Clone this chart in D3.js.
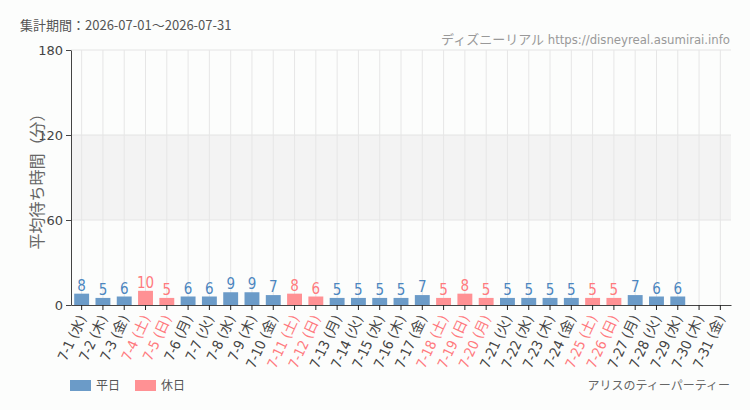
<!DOCTYPE html>
<html>
<head>
<meta charset="utf-8">
<script src="https://cdn.jsdelivr.net/npm/d3@7"></script>
<style>
body { margin: 0; background: #fcfdfc; }
svg { display: block; font-family: "Noto Sans CJK JP", "DejaVu Sans", sans-serif; }
.cond { font-family: "DejaVu Sans Condensed", "Noto Sans CJK JP", sans-serif; font-stretch: condensed; }
</style>
</head>
<body>
<div id="canvas"></div>
<script>
// ----------------------------------------------------------
// DATA
// ----------------------------------------------------------
var days = ["7-1","7-2","7-3","7-4","7-5","7-6","7-7","7-8","7-9","7-10",
"7-11","7-12","7-13","7-14","7-15","7-16","7-17","7-18","7-19","7-20",
"7-21","7-22","7-23","7-24","7-25","7-26","7-27","7-28","7-29","7-30","7-31"];
var weekdays = ["水","木","金","土","日","月","火","水","木","金",
"土","日","月","火","水","木","金","土","日","月",
"火","水","木","金","土","日","月","火","水","木","金"];
var holidays = ["7-4","7-5","7-11","7-12","7-18","7-19","7-20","7-25","7-26"];
var waits = [8,5,6,10,5,6,6,9,9,7,8,6,5,5,5,5,7,5,8,5,5,5,5,5,5,5,7,6,6,null,null];
var y_ticks = [0, 60, 120, 180];

var rows = days.map(function (d, i) {
  return { day: d, wd: weekdays[i], value: waits[i], holiday: holidays.indexOf(d) >= 0 };
});

// ----------------------------------------------------------
// STRUCTURE
// ----------------------------------------------------------
var W = 750, H = 410;
var p_left = 71, p_right = 731, p_top = 50, p_bottom = 305;

var svg = d3.select("#canvas").append("svg")
  .attr("width", W)
  .attr("height", H)
  .style("background-color", "#fcfdfc");

var x = d3.scaleBand()
  .domain(days)
  .range([p_left, p_right])
  .paddingInner(0.3)
  .paddingOuter(0.15);

var y = d3.scaleLinear()
  .domain([0, 180])
  .range([p_bottom, p_top]);

var c_blue = "#6b9bc8", c_pink = "#ff9194";
var t_blue = "#4c86bf", t_pink = "#ff7a7e";

// shaded band 60-120
svg.append("rect")
  .attr("x", p_left)
  .attr("y", y(120))
  .attr("width", p_right - p_left)
  .attr("height", y(60) - y(120))
  .style("fill", "#f3f3f3");

// horizontal grid
svg.selectAll(".hgrid")
  .data(y_ticks.filter(function (t) { return t > 0; }))
  .enter().append("line")
  .attr("x1", p_left).attr("x2", p_right)
  .attr("y1", function (d) { return y(d); })
  .attr("y2", function (d) { return y(d); })
  .style("stroke", "#e4e4e4");

// vertical grid at each day
svg.selectAll(".vgrid")
  .data(days)
  .enter().append("line")
  .attr("x1", function (d) { return x(d) + x.bandwidth() / 2; })
  .attr("x2", function (d) { return x(d) + x.bandwidth() / 2; })
  .attr("y1", p_top).attr("y2", p_bottom)
  .style("stroke", "#e6e6e6");

// bars
svg.selectAll(".bar")
  .data(rows.filter(function (r) { return r.value != null; }))
  .enter().append("rect")
  .attr("x", function (d) { return x(d.day); })
  .attr("y", function (d) { return y(d.value); })
  .attr("width", x.bandwidth())
  .attr("height", function (d) { return p_bottom - y(d.value); })
  .style("fill", function (d) { return d.holiday ? c_pink : c_blue; });

// value labels
svg.selectAll(".val")
  .data(rows.filter(function (r) { return r.value != null; }))
  .enter().append("text")
  .attr("class", "cond")
  .attr("x", function (d) { return x(d.day) + x.bandwidth() / 2; })
  .attr("y", function (d) { return y(d.value) - 3; })
  .attr("text-anchor", "middle")
  .style("font-size", "15px")
  .style("fill", function (d) { return d.holiday ? t_pink : t_blue; })
  .text(function (d) { return d.value; });

// y axis
var yAxis = svg.append("g")
  .attr("transform", "translate(" + p_left + ",0)")
  .call(d3.axisLeft(y).tickValues(y_ticks).tickSize(5).tickSizeOuter(0));
yAxis.select(".domain").style("stroke", "#444");
yAxis.selectAll(".tick line").style("stroke", "#444");
yAxis.selectAll(".tick text")
  .style("font-size", "13px")
  .style("fill", "#444")
  .style("font-family", "DejaVu Sans, sans-serif");

// x axis
var xAxis = svg.append("g")
  .attr("transform", "translate(0," + p_bottom + ")")
  .call(d3.axisBottom(x).tickSize(5).tickSizeOuter(0)
    .tickFormat(function (d, i) { return d + " (" + weekdays[i] + ")"; }));
xAxis.select(".domain").style("stroke", "#444");
xAxis.selectAll(".tick line").style("stroke", "#222");
xAxis.selectAll(".tick text")
  .attr("class", "cond")
  .style("font-size", "14px")
  .style("fill", function (d) { return holidays.indexOf(d) >= 0 ? t_pink : "#444"; })
  .attr("text-anchor", "end")
  .attr("dx", 0)
  .attr("dy", 0)
  .attr("y", 0)
  .attr("transform", "translate(5,13) rotate(-65)");

// ----------------------------------------------------------
// TEXT
// ----------------------------------------------------------
svg.append("text")
  .attr("x", 20).attr("y", 30)
  .style("font-size", "13px")
  .style("fill", "#555")
  .text("集計期間：2026-07-01～2026-07-31");

svg.append("text")
  .attr("class", "cond")
  .attr("x", 730).attr("y", 44)
  .attr("text-anchor", "end")
  .style("font-size", "13px")
  .style("fill", "#999")
  .text("ディズニーリアル https://disneyreal.asumirai.info");

svg.append("text")
  .attr("transform", "translate(37," + ((p_top + p_bottom) / 2) + ") rotate(-90)")
  .attr("text-anchor", "middle")
  .attr("dy", "0.35em")
  .style("font-size", "16px")
  .style("fill", "#666")
  .text("平均待ち時間（分）");

svg.append("text")
  .attr("x", 730).attr("y", 390)
  .attr("text-anchor", "end")
  .style("font-size", "12px")
  .style("fill", "#666")
  .text("アリスのティーパーティー");

// legend
var legend = [{ label: "平日", color: c_blue, x: 70 }, { label: "休日", color: c_pink, x: 135 }];
var lg = svg.selectAll(".legend").data(legend).enter().append("g");
lg.append("rect")
  .attr("x", function (d) { return d.x; })
  .attr("y", 380)
  .attr("width", 21).attr("height", 11)
  .style("fill", function (d) { return d.color; });
lg.append("text")
  .attr("x", function (d) { return d.x + 26; })
  .attr("y", 390)
  .style("font-size", "12px")
  .style("fill", "#555")
  .text(function (d) { return d.label; });
</script>
</body>
</html>
